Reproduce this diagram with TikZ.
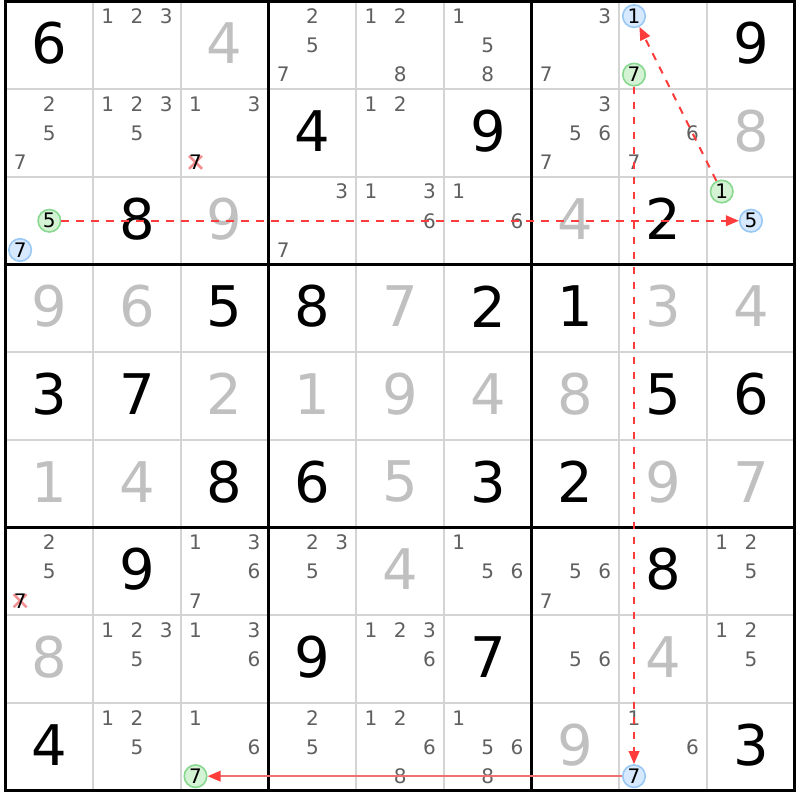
\documentclass[tikz,border=0pt]{standalone}
\usepackage{fontspec}
\setmainfont{DejaVu Sans}
\usetikzlibrary{arrows.meta}
\definecolor{thinc}{HTML}{D4D4D4}
\definecolor{solvedc}{HTML}{C0C0C0}
\definecolor{candc}{HTML}{606060}
\definecolor{linkred}{HTML}{FF3C3C}
\definecolor{solidred}{HTML}{F07070}
\definecolor{bluefill}{HTML}{D6E9FF}
\definecolor{bluedraw}{HTML}{99C8F5}
\definecolor{greenfill}{HTML}{D4F2D4}
\definecolor{greendraw}{HTML}{88D890}
\definecolor{xred}{HTML}{F29090}
\def\sz{87.7}
\def\gx{5.5}
\def\gy{1.5}
\newcommand\given[3]{\node[given] (g#1#2) at ({\gx+(#2+0.5)*\sz},{\gy+(#1+0.5)*\sz-2}) {#3};}
\newcommand\solved[3]{\node[solved] (g#1#2) at ({\gx+(#2+0.5)*\sz},{\gy+(#1+0.5)*\sz-2}) {#3};}
\newcommand\cands[3]{\foreach \k in {#3}{\node[cand] (c#1#2\k) at ({\gx+#2*\sz+(mod(\k-1,3)+0.5)*\sz/3},{\gy+#1*\sz+(floor((\k-1)/3)+0.5)*\sz/3}) {\k};}}
\newcommand\hilite[5]{\node[#2] (#1) at ({\gx+#4*\sz+(mod(#5-1,3)+0.5)*\sz/3},{\gy+#3*\sz+(floor((#5-1)/3)+0.5)*\sz/3}) {#5};}
\newcommand\elim[3]{%
  \coordinate (x#1#2) at ({\gx+#2*\sz+(mod(#3-1,3)+0.5)*\sz/3},{\gy+#1*\sz+(floor((#3-1)/3)+0.5)*\sz/3});
  \draw[xmark] ([shift={(-6.5,-6.5)}]x#1#2) -- ([shift={(6.5,6.5)}]x#1#2);
  \draw[xmark] ([shift={(-6.5,6.5)}]x#1#2) -- ([shift={(6.5,-6.5)}]x#1#2);
  \node[cand,text=black] (e#1#2) at (x#1#2) {#3};}
\tikzset{
  given/.style={font=\fontsize{56}{56}\selectfont, text=black, inner sep=0pt},
  solved/.style={font=\fontsize{56}{56}\selectfont, text=solvedc, inner sep=0pt},
  cand/.style={font=\fontsize{20}{20}\selectfont, text=candc, inner sep=0pt},
  bluec/.style={circle, draw=bluedraw, fill=bluefill, line width=1.6pt, minimum size=22.5pt, inner sep=0pt, font=\fontsize{20}{20}\selectfont, text=black},
  greenc/.style={circle, draw=greendraw, fill=greenfill, line width=1.6pt, minimum size=22.5pt, inner sep=0pt, font=\fontsize{20}{20}\selectfont, text=black},
  xmark/.style={draw=xred, line width=2.5pt},
  thinline/.style={draw=thinc, line width=2pt},
  thickline/.style={draw=black, line width=3pt},
  link/.style={draw=linkred, line width=2pt, dash pattern=on 7.5pt off 7.5pt, -{Triangle[length=13pt,width=10.5pt,color=linkred,fill=linkred]}},
  solidlink/.style={draw=solidred, line width=2pt, -{Triangle[length=13pt,width=10.5pt,color=linkred,fill=linkred]}}
}
\begin{document}
\begin{tikzpicture}[x=1pt,y=-1pt]
\useasboundingbox (0,0) rectangle (800,800);
\fill[white] (0,0) rectangle (800,800);
% grid
\foreach \i in {1,2,4,5,7,8}{
  \draw[thinline] ({\gx+\i*\sz},\gy) -- ({\gx+\i*\sz},{\gy+9*\sz});
  \draw[thinline] (\gx,{\gy+\i*\sz}) -- ({\gx+9*\sz},{\gy+\i*\sz});
}
\foreach \i in {3,6}{
  \draw[thickline] ({\gx+\i*\sz},\gy) -- ({\gx+\i*\sz},{\gy+9*\sz});
  \draw[thickline] (\gx,{\gy+\i*\sz}) -- ({\gx+9*\sz},{\gy+\i*\sz});
}
\draw[thickline] (\gx,\gy) rectangle ({\gx+9*\sz},{\gy+9*\sz});
% givens
\given{0}{0}{6}\given{0}{8}{9}
\given{1}{3}{4}\given{1}{5}{9}
\given{2}{1}{8}\given{2}{7}{2}
\given{3}{2}{5}\given{3}{3}{8}\given{3}{5}{2}\given{3}{6}{1}
\given{4}{0}{3}\given{4}{1}{7}\given{4}{7}{5}\given{4}{8}{6}
\given{5}{2}{8}\given{5}{3}{6}\given{5}{5}{3}\given{5}{6}{2}
\given{6}{1}{9}\given{6}{7}{8}
\given{7}{3}{9}\given{7}{5}{7}
\given{8}{0}{4}\given{8}{8}{3}
% solved
\solved{0}{2}{4}
\solved{1}{8}{8}
\solved{2}{2}{9}\solved{2}{6}{4}
\solved{3}{0}{9}\solved{3}{1}{6}\solved{3}{4}{7}\solved{3}{7}{3}\solved{3}{8}{4}
\solved{4}{2}{2}\solved{4}{3}{1}\solved{4}{4}{9}\solved{4}{5}{4}\solved{4}{6}{8}
\solved{5}{0}{1}\solved{5}{1}{4}\solved{5}{4}{5}\solved{5}{7}{9}\solved{5}{8}{7}
\solved{6}{4}{4}
\solved{7}{0}{8}\solved{7}{7}{4}
\solved{8}{6}{9}
% candidates
\cands{0}{1}{1,2,3}\cands{0}{3}{2,5,7}\cands{0}{4}{1,2,8}\cands{0}{5}{1,5,8}\cands{0}{6}{3,7}
\cands{1}{0}{2,5,7}\cands{1}{1}{1,2,3,5}\cands{1}{2}{1,3}\cands{1}{4}{1,2}\cands{1}{6}{3,5,6,7}\cands{1}{7}{6,7}
\cands{2}{3}{3,7}\cands{2}{4}{1,3,6}\cands{2}{5}{1,6}
\cands{6}{0}{2,5}\cands{6}{2}{1,3,6,7}\cands{6}{3}{2,3,5}\cands{6}{5}{1,5,6}\cands{6}{6}{5,6,7}\cands{6}{8}{1,2,5}
\cands{7}{1}{1,2,3,5}\cands{7}{2}{1,3,6}\cands{7}{4}{1,2,3,6}\cands{7}{6}{5,6}\cands{7}{8}{1,2,5}
\cands{8}{1}{1,2,5}\cands{8}{2}{1,6}\cands{8}{3}{2,5}\cands{8}{4}{1,2,6,8}\cands{8}{5}{1,5,6,8}\cands{8}{7}{1,6}
% eliminated
\elim{1}{2}{7}
\elim{6}{0}{7}
% highlighted candidates
\hilite{bA}{bluec}{0}{7}{1}
\hilite{gA}{greenc}{0}{7}{7}
\hilite{gB}{greenc}{2}{0}{5}
\hilite{bB}{bluec}{2}{0}{7}
\hilite{gC}{greenc}{2}{8}{1}
\hilite{bC}{bluec}{2}{8}{5}
\hilite{gD}{greenc}{8}{2}{7}
\hilite{bD}{bluec}{8}{7}{7}
% links
\draw[link] (gB) -- (bC);
\draw[link] (gC) -- (bA);
\draw[link] (gA) -- (bD);
\draw[solidlink] (bD) -- (gD);
\end{tikzpicture}
\end{document}
